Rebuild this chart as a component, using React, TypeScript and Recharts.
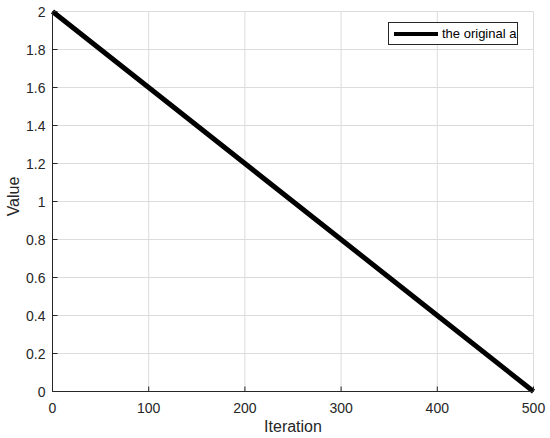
import React from 'react';
import { LineChart, Line, XAxis, YAxis, CartesianGrid, Legend, Label } from 'recharts';

// values
const iterations = [0, 100, 200, 300, 400, 500];
const originalA = [2, 1.6, 1.2, 0.8, 0.4, 0];

const xTicks = [0, 100, 200, 300, 400, 500];
const yTicks = [0, 0.2, 0.4, 0.6, 0.8, 1, 1.2, 1.4, 1.6, 1.8, 2];

const data = iterations.map((it, i) => ({ iteration: it, a: originalA[i] }));

const AXIS = '#262626';
const GRID = '#dcdcdc';
const FONT = '"Liberation Sans", Arial, Helvetica, sans-serif';
const TICK = 5;

// MATLAB style: ticks point into the plot, labels sit outside
const BottomTick = (props: any) => {
  const { x, y, payload } = props;
  return (
    <g>
      <line x1={x} x2={x} y1={y} y2={y - TICK} stroke={AXIS} />
      <text x={x} y={y + 21.5} textAnchor="middle" fill={AXIS} fontSize={14} fontFamily={FONT}>
        {payload.value}
      </text>
    </g>
  );
};

const LeftTick = (props: any) => {
  const { x, y, payload } = props;
  return (
    <g>
      <line x1={x} x2={x + TICK} y1={y} y2={y} stroke={AXIS} />
      <text x={x - 7} y={y} dy="0.36em" textAnchor="end" fill={AXIS} fontSize={14} fontFamily={FONT}>
        {payload.value}
      </text>
    </g>
  );
};

const TopTick = (props: any) => {
  const { x, y } = props;
  return <line x1={x} x2={x} y1={y} y2={y + TICK} stroke={AXIS} />;
};

const RightTick = (props: any) => {
  const { x, y } = props;
  return <line x1={x} x2={x - TICK} y1={y} y2={y} stroke={AXIS} />;
};

const LegendBox = () => (
  <div
    style={{
      width: 130,
      height: 23,
      boxSizing: 'border-box',
      border: `1px solid ${AXIS}`,
      background: '#fff',
      display: 'flex',
      alignItems: 'center',
      fontFamily: FONT,
      fontSize: 13,
      color: '#000',
    }}
  >
    <div style={{ width: 44, height: 4, background: '#000', marginLeft: 5, marginRight: 4 }} />
    <span>the original a</span>
  </div>
);

export default function App() {
  return (
    <div style={{ position: 'absolute', left: 0, top: 0, background: '#fff' }}>
      <LineChart
        width={550}
        height={438}
        data={data}
        margin={{ top: 11.5, right: 16.5, bottom: 0.5, left: 0.5 }}
      >
        <CartesianGrid stroke={GRID} strokeWidth={1} />
        <XAxis
          dataKey="iteration"
          type="number"
          domain={[0, 500]}
          ticks={xTicks}
          height={46}
          stroke={AXIS}
          tickLine={false}
          tickSize={0}
          tickMargin={0}
          tick={<BottomTick />}
          interval={0}
        >
          <Label
            content={(p: any) => {
              const vb = p.viewBox;
              return (
                <text
                  x={vb.x + vb.width / 2}
                  y={vb.y + 40.5}
                  textAnchor="middle"
                  fill={AXIS}
                  fontSize={16}
                  fontFamily={FONT}
                >
                  Iteration
                </text>
              );
            }}
          />
        </XAxis>
        <XAxis
          xAxisId="top"
          orientation="top"
          dataKey="iteration"
          type="number"
          domain={[0, 500]}
          ticks={xTicks}
          height={0}
          stroke={AXIS}
          tickLine={false}
          tickSize={0}
          tickMargin={0}
          tick={<TopTick />}
          interval={0}
        />
        <YAxis
          type="number"
          domain={[0, 2]}
          ticks={yTicks}
          width={52}
          stroke={AXIS}
          tickLine={false}
          tickSize={0}
          tickMargin={0}
          tick={<LeftTick />}
          interval={0}
        >
          <Label
            content={(p: any) => {
              const vb = p.viewBox;
              const cy = vb.y + vb.height / 2 - 5;
              return (
                <text
                  x={18.5}
                  y={cy}
                  textAnchor="middle"
                  transform={`rotate(-90 18.5 ${cy})`}
                  fill={AXIS}
                  fontSize={16}
                  fontFamily={FONT}
                >
                  Value
                </text>
              );
            }}
          />
        </YAxis>
        <YAxis
          yAxisId="right"
          orientation="right"
          type="number"
          domain={[0, 2]}
          ticks={yTicks}
          width={0}
          stroke={AXIS}
          tickLine={false}
          tickSize={0}
          tickMargin={0}
          tick={<RightTick />}
          interval={0}
        />
        <Legend
          layout="vertical"
          align="center"
          verticalAlign="middle"
          wrapperStyle={{ top: 22, left: 388, width: 130, height: 23 }}
          content={<LegendBox />}
        />
        <Line
          dataKey="a"
          stroke="#000"
          strokeWidth={5}
          dot={false}
          isAnimationActive={false}
        />
      </LineChart>
    </div>
  );
}
